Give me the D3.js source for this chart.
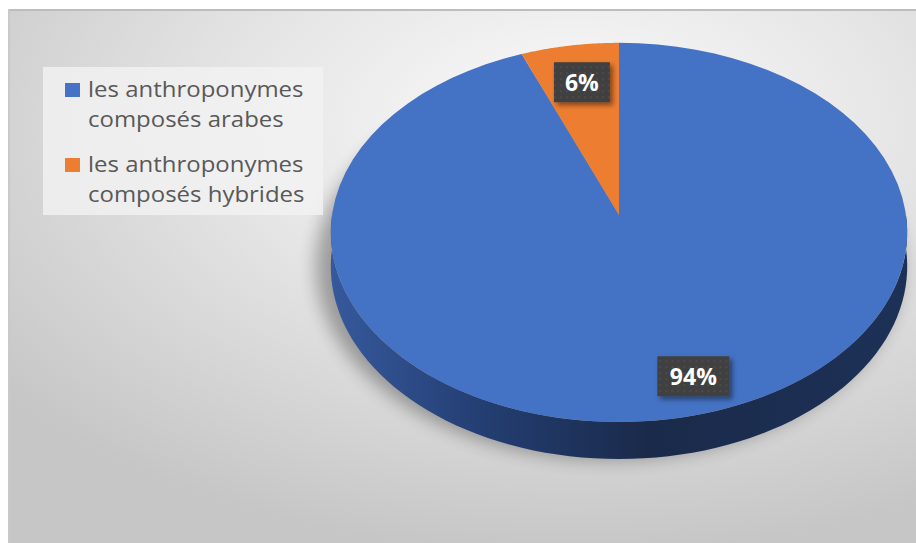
<!DOCTYPE html>
<html>
<head>
<meta charset="utf-8">
<script src="https://cdn.jsdelivr.net/npm/d3@7"></script>
<style>
  body { margin: 0; background: #fff; }
  svg { display: block; }
</style>
</head>
<body>
<svg id="chart"></svg>
<script>
// chart data
const categories = ['les anthroponymes composés arabes', 'les anthroponymes composés hybrides']
const legendLines = [['les anthroponymes', 'composés arabes'], ['les anthroponymes', 'composés hybrides']]
const values = [94, 6]
const labels = ['94%', '6%']
const colorsArr = ['#4472c4', '#ed7d31']

const W = 916, H = 543
// pie centre on screen, radii and perspective strength
const cx = 619, cy = 215, Rx = 287, Ry = 188, k = 0.092, depth = 37

const svg = d3.select('#chart').attr('width', W).attr('height', H)
const defs = svg.append('defs')

// chart area background (radial gradient)
const bg = defs.append('radialGradient').attr('id', 'bg')
    .attr('cx', 0.62).attr('cy', 0.22).attr('r', 0.8)
bg.append('stop').attr('offset', '0%').attr('stop-color', '#fbfbfb')
bg.append('stop').attr('offset', '45%').attr('stop-color', '#e6e6e6')
bg.append('stop').attr('offset', '100%').attr('stop-color', '#c6c6c6')

// side wall shading
const side = defs.append('linearGradient').attr('id', 'side')
    .attr('gradientUnits', 'userSpaceOnUse')
    .attr('x1', cx - Rx).attr('x2', cx + Rx).attr('y1', 0).attr('y2', 0)
side.append('stop').attr('offset', '0%').attr('stop-color', '#36599c')
side.append('stop').attr('offset', '25%').attr('stop-color', '#243f74')
side.append('stop').attr('offset', '55%').attr('stop-color', '#1a2a4a')
side.append('stop').attr('offset', '100%').attr('stop-color', '#1d3157')

const blur = defs.append('filter').attr('id', 'blur')
    .attr('x', '-20%').attr('y', '-20%').attr('width', '140%').attr('height', '140%')
blur.append('feGaussianBlur').attr('stdDeviation', 9)

const lblShadow = defs.append('filter').attr('id', 'lblShadow')
    .attr('x', '-30%').attr('y', '-30%').attr('width', '160%').attr('height', '160%')
lblShadow.append('feDropShadow').attr('dx', 3).attr('dy', 3).attr('stdDeviation', 2.5)
    .attr('flood-color', '#000').attr('flood-opacity', 0.45)

// dotted texture for the label boxes
const dots = defs.append('pattern').attr('id', 'dots')
    .attr('patternUnits', 'userSpaceOnUse').attr('width', 6).attr('height', 6)
dots.append('rect').attr('width', 6).attr('height', 6).attr('fill', '#404040')
dots.append('circle').attr('cx', 3).attr('cy', 3).attr('r', 0.8).attr('fill', '#585858')

svg.append('rect').attr('x', 8).attr('y', 9).attr('width', W - 8).attr('height', H - 9)
    .attr('fill', 'url(#bg)')
svg.append('line').attr('x1', 8).attr('x2', W).attr('y1', 10).attr('y2', 10)
    .attr('stroke', '#bdbdbd').attr('stroke-width', 2)
svg.append('line').attr('x1', 9).attr('x2', 9).attr('y1', 9).attr('y2', H)
    .attr('stroke', '#c9c9c9').attr('stroke-width', 2)

// Get angles for each slice
const piedata = d3.pie().sort(null).value(d => d)(values)

// project a point of the disk (angle a, radius fraction f) with a little perspective
function proj(a, f, dz) {
    const u = Math.sin(a) * f, v = -Math.cos(a) * f
    const s = 1 / (1 - k * v)
    return [cx + Rx * u * s, cy + Ry * v * s + (dz || 0) * s * (1 - k)]
}
const line = d3.line()
const steps = (s, e) => d3.range(81).map(i => s + (e - s) * i / 80)

// soft shadow under the pie
svg.append('ellipse')
    .attr('cx', cx - 10).attr('cy', 233 + depth / 2 + 14)
    .attr('rx', Rx + 6).attr('ry', Ry + 6)
    .attr('fill', '#000').attr('opacity', 0.32)
    .attr('filter', 'url(#blur)')

// front side wall (only the lower half of the rim is visible)
function wallPath(a0, a1) {
    const s = Math.max(a0, Math.PI / 2), e = Math.min(a1, Math.PI * 1.5)
    if (e <= s) return null
    const top = steps(s, e).map(a => proj(a, 1))
    const bot = steps(e, s).map(a => proj(a, 1, depth))
    return line(top.concat(bot)) + 'Z'
}

svg.append('g')
    .selectAll('path')
    .data(piedata)
    .join('path')
        .attr('d', d => wallPath(d.startAngle, d.endAngle))
        .attr('fill', 'url(#side)')

// top face
svg.append('g')
    .selectAll('path')
    .data(piedata)
    .join('path')
        .attr('d', d => line([[cx, cy]].concat(steps(d.startAngle, d.endAngle).map(a => proj(a, 1)))) + 'Z')
        .attr('fill', (d, i) => colorsArr[i])

// data labels
const nudge = [[28, 2], [3, 5]]
const lbl = svg.append('g')
    .selectAll('g')
    .data(piedata)
    .join('g')
        .attr('transform', (d, i) => {
            const p = proj((d.startAngle + d.endAngle) / 2, 0.8)
            return `translate(${p[0] + nudge[i][0]},${p[1] + nudge[i][1]})`
        })
lbl.append('rect')
    .attr('x', (d, i) => i === 0 ? -36 : -28).attr('y', -20)
    .attr('width', (d, i) => i === 0 ? 72 : 56).attr('height', 40)
    .attr('fill', 'url(#dots)')
    .attr('filter', 'url(#lblShadow)')
lbl.append('text')
    .attr('text-anchor', 'middle').attr('dy', '0.36em')
    .attr('font-family', '"Open Sans", sans-serif').attr('font-weight', 'bold')
    .attr('font-size', 23).attr('fill', '#fff')
    .text((d, i) => labels[i])

// legend
const legend = svg.append('g')
legend.append('rect').attr('x', 43).attr('y', 67).attr('width', 280).attr('height', 148)
    .attr('fill', '#f2f2f2').attr('opacity', 0.8)
const items = legend.selectAll('g')
    .data(categories)
    .join('g')
        .attr('transform', (d, i) => `translate(0,${i * 75})`)
items.append('rect').attr('x', 65).attr('y', 83).attr('width', 15).attr('height', 14)
    .attr('fill', (d, i) => colorsArr[i])
items.append('text')
    .attr('transform', 'translate(88,0) scale(1.09,1)')
    .attr('font-family', '"Open Sans", sans-serif').attr('font-size', 22).attr('fill', '#595959')
    .selectAll('tspan')
    .data((d, i) => legendLines[i])
    .join('tspan')
        .attr('x', 0).attr('y', (d, j) => 97 + j * 30)
        .text(d => d)
</script>
</body>
</html>
